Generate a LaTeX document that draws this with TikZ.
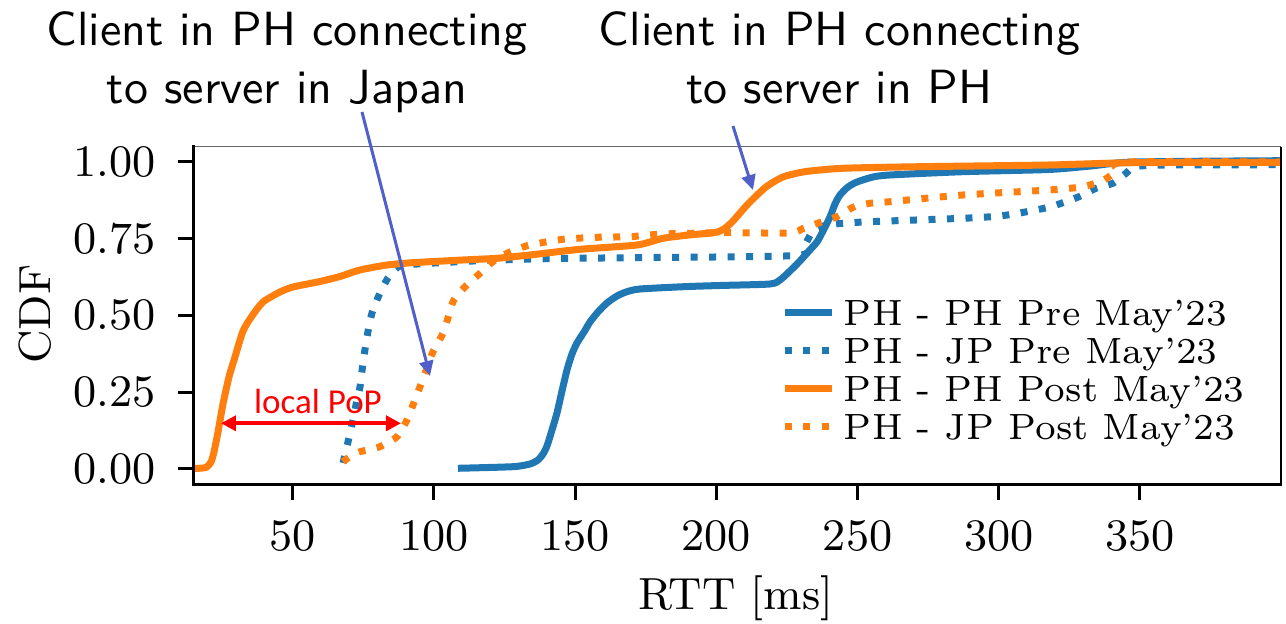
\documentclass[tikz,border=0pt]{standalone}
\usepackage{fontspec}
\newfontfamily\carlito{Carlito}
\usetikzlibrary{arrows.meta}
\definecolor{tabblue}{HTML}{1F77B4}
\definecolor{taborange}{HTML}{FF7F0E}
\definecolor{annblue}{RGB}{80,96,200}
\tikzset{
  curve/.style={line width=1.4pt, line join=round},
  dotcurve/.style={line width=1.4pt, line join=round, dash pattern=on 1.4pt off 2.3pt},
  tickmark/.style={line width=0.6pt},
  ticklab/.style={font=\fontsize{9}{10.8}\selectfont, inner sep=0pt},
  leglab/.style={font=\fontsize{7.3}{8.6}\selectfont, inner sep=0pt, anchor=base west},
  annot/.style={font=\sffamily\fontsize{9.6}{11.48}\selectfont, align=center, inner sep=0pt, anchor=north},
  annarrow/.style={draw=annblue, line width=0.6pt, -{Triangle[length=3pt,width=2.8pt,fill=annblue]}},
  poparrow/.style={draw=red, line width=0.8pt, {Triangle[length=3pt,width=3pt,fill=red]}-{Triangle[length=3pt,width=3pt,fill=red]}}
}
\begin{document}
\begin{tikzpicture}[x=0.2pt,y=-0.2pt]
\useasboundingbox (0,0) rectangle (1286,624);

% curves
\begin{scope}
\clip (194,146.6) rectangle (1281,484.4);
% PH - PH Pre
\draw[curve, tabblue] plot[smooth, tension=0.4] coordinates {
 (458,468.3) (513,466.7) (530,464) (538,460) (543,454) (547,446) (552,430) (557,413)
 (562,391) (567,370) (572,354) (577,343) (584,332) (590,322) (598,312) (607,303)
 (617,296) (627,291.7) (640,289) (684,286.7) (720,285.5) (770,284) (780,280) (790,271)
 (800,261) (808,252) (817,242) (823,231) (830,217) (835,204) (840,195) (848,187)
 (857,182) (873,177) (890,175) (963,171.7) (1049,169.5) (1091,166) (1134,162) (1283,160.7)};
% PH - JP Pre
\draw[dotcurve, tabblue] plot[smooth, tension=0.4] coordinates {
 (343,463) (348,442) (353,420) (357,400) (360,387) (363,363) (367,337) (372,313)
 (380,293) (388,278) (398,267) (413,264.3) (480,260.7) (547,258.7) (630,257.7) (797,255.5)
 (805,245) (812,232) (820,227) (835,224) (870,221.7) (963,218.3) (1000,216) (1027,211.7)
 (1050,207) (1062,203) (1079,196.7) (1096,188.3) (1113,183.3) (1120,178) (1126,173.3)
 (1134,166.7) (1150,165.5) (1177,165) (1283,164.7)};
% PH - PH Post
\draw[curve, taborange] plot[smooth, tension=0.4] coordinates {
 (194,468.5) (206,467.5) (211,462) (214,452) (218,432) (223,404) (229,377) (235,357)
 (243,331) (252,316) (263,302) (280,292) (293,287) (320,281.5) (340,276.5) (360,270)
 (387,265) (413,262.7) (463,260) (497,258.3) (530,255) (580,249.3) (637,245) (663,238.3)
 (689,235) (715,232.5) (724,229) (733,221) (748,204) (766,187) (783,177) (805,171.7)
 (843,168.3) (920,166.7) (1049,165) (1134,162.7) (1283,162.3)};
% PH - JP Post
\draw[dotcurve, taborange] plot[smooth, tension=0.4] coordinates {
 (343,461.7) (352,455) (360,451.7) (380,446.7) (397,436.7) (407,420) (413,405) (420,386.7)
 (427,368) (433,351.7) (443,333.3) (448,318) (453,301.7) (460,292) (467,285) (480,273.3)
 (490,264) (500,256.7) (515,250) (530,245) (563,239.3) (597,237.3) (630,236.7) (663,234)
 (727,232.7) (790,233) (803,228.5) (817,223.5) (837,216.7) (848,210) (855,206.5) (870,203.3)
 (890,201.7) (963,195) (1049,190) (1083,186.7) (1104,180) (1117,170) (1124,162) (1283,162)};
\end{scope}

% spines
\draw[line width=0.3pt, black!60] (194,146.6) -- (1281,146.6);
\draw[line width=0.5pt] (1281,146.6) -- (1281,484.4);
\draw[line width=0.6pt, line cap=rect] (194,146.6) -- (194,484.4) -- (1281,484.4);

% x ticks
\foreach \x/\l in {292.9/50, 434.0/100, 575.2/150, 716.4/200, 857.6/250, 998.8/300, 1139.9/350} {
  \draw[tickmark] (\x,484.4) -- (\x,500);
  \node[ticklab, anchor=north] (xl\l) at (\x,520) {\l};
}
% y ticks
\foreach \y/\l/\n in {469/0.00/a, 392.25/0.25/b, 315.5/0.50/c, 238.75/0.75/d, 162/1.00/e} {
  \draw[tickmark] (178,\y) -- (194,\y);
  \node[ticklab, anchor=east] (yl\n) at (157,\y) {\l};
}
% axis labels
\node[ticklab, anchor=base] (xlabel) at (736,610) {RTT [ms]};
\node[ticklab, anchor=base, rotate=90] (ylabel) at (50,314) {CDF};

% legend
\draw[curve, tabblue] (785,312.7) -- (832,312.7);
\node[leglab] (lg1) at (843,326) {PH - PH Pre May'23};
\draw[dotcurve, tabblue] (785,351) -- (832,351);
\node[leglab] (lg2) at (843,364) {PH - JP Pre May'23};
\draw[curve, taborange] (785,388.5) -- (832,388.5);
\node[leglab] (lg3) at (843,401.5) {PH - PH Post May'23};
\draw[dotcurve, taborange] (785,426.5) -- (832,426.5);
\node[leglab] (lg4) at (843,439.5) {PH - JP Post May'23};

% annotations
\node[annot] (ann1) at (287,11) {Client in PH connecting\\to server in Japan};
\node[annot] (ann2) at (839.5,11) {Client in PH connecting\\to server in PH};
\coordinate (a1s) at (362,112);
\coordinate (a1e) at (430,376);
\coordinate (a2s) at (733,126);
\coordinate (a2e) at (753,190);
\draw[annarrow] (a1s) -- (a1e);
\draw[annarrow] (a2s) -- (a2e);

% local PoP
\node[font=\carlito\fontsize{7}{8.4}\selectfont, text=red, inner sep=0pt, anchor=base] (pop) at (318,414) {local PoP};
\coordinate (p1) at (221,423.3);
\coordinate (p2) at (401,423.3);
\draw[poparrow] (p1) -- (p2);
\end{tikzpicture}
\end{document}
